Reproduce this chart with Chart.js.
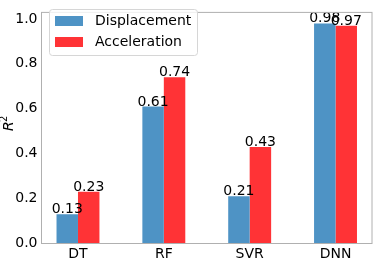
<!DOCTYPE html>
<html>
<head>
<meta charset="utf-8">
<script src="https://cdn.jsdelivr.net/npm/chart.js@4"></script>
<style>
  html, body { margin: 0; padding: 0; background: #fff; }
  canvas { display: block; }
</style>
</head>
<body>
<canvas id="r2Chart" width="374" height="262"></canvas>
<script>
const categories = ["DT", "RF", "SVR", "DNN"];
const displacement = [0.13, 0.61, 0.21, 0.98];
const acceleration = [0.23, 0.74, 0.43, 0.97];
const yTicks = [0.0, 0.2, 0.4, 0.6, 0.8, 1.0];

const FONT = "'DejaVu Sans', sans-serif";

// value labels above each bar
const barLabels = {
  id: "barLabels",
  afterDatasetsDraw(chart) {
    const ctx = chart.ctx;
    ctx.save();
    ctx.font = "14px " + FONT;
    ctx.fillStyle = "#000";
    ctx.textAlign = "center";
    ctx.textBaseline = "alphabetic";
    chart.data.datasets.forEach((ds, di) => {
      chart.getDatasetMeta(di).data.forEach((bar, i) => {
        ctx.fillText(ds.data[i].y.toFixed(2), bar.x, bar.y - 1);
      });
    });
    ctx.restore();
  }
};

// frame, legend and y title
const frame = {
  id: "frame",
  afterDraw(chart) {
    const ctx = chart.ctx;
    const a = chart.chartArea;
    ctx.save();
    ctx.strokeStyle = "#b0b0b0";
    ctx.lineWidth = 1;
    ctx.strokeRect(a.left, a.top, a.right - a.left, a.bottom - a.top);

    // legend
    ctx.beginPath();
    ctx.roundRect(49.5, 9.5, 148, 46, 3);
    ctx.fillStyle = "rgba(255,255,255,0.8)";
    ctx.fill();
    ctx.strokeStyle = "#d6d6d6";
    ctx.stroke();
    ctx.font = "14px " + FONT;
    ctx.textBaseline = "middle";
    ctx.textAlign = "left";
    chart.data.datasets.forEach((ds, i) => {
      const y = 16 + i * 21;
      ctx.fillStyle = ds.backgroundColor;
      ctx.fillRect(55, y, 28, 10);
      ctx.fillStyle = "#000";
      ctx.fillText(ds.label, 95, y + 5.5);
    });

    // y axis title R^2
    ctx.translate(13, 125);
    ctx.rotate(-Math.PI / 2);
    ctx.textBaseline = "alphabetic";
    ctx.font = "italic 14px " + FONT;
    ctx.fillText("R", -6, 0);
    ctx.font = "10px " + FONT;
    ctx.fillText("2", 3, -6);
    ctx.restore();
  }
};

new Chart(document.getElementById("r2Chart").getContext("2d"), {
  type: "bar",
  data: {
    datasets: [
      {
        label: "Displacement",
        data: displacement.map((v, i) => ({ x: i, y: v })),
        backgroundColor: "#4e93c5"
      },
      {
        label: "Acceleration",
        data: acceleration.map((v, i) => ({ x: i, y: v })),
        backgroundColor: "#ff3336"
      }
    ]
  },
  options: {
    responsive: false,
    animation: false,
    layout: { padding: { top: 3, right: 2, left: 0, bottom: 0 } },
    categoryPercentage: 0.5,
    barPercentage: 1.0,
    plugins: { legend: { display: false }, tooltip: { enabled: false } },
    scales: {
      x: {
        type: "linear",
        min: -0.425,
        max: 3.425,
        offset: false,
        grid: { display: false, drawTicks: false },
        border: { display: false },
        afterBuildTicks: (s) => { s.ticks = categories.map((c, i) => ({ value: i })); },
        afterFit: (s) => { s.height = 18.5; },
        ticks: {
          padding: 2,
          maxRotation: 0,
          autoSkip: false,
          color: "#000",
          font: { family: FONT, size: 14 },
          callback: (v) => categories[v]
        }
      },
      y: {
        min: 0,
        max: 1.029,
        grid: { display: false, drawTicks: false },
        border: { display: false },
        afterBuildTicks: (s) => { s.ticks = yTicks.map((v) => ({ value: v })); },
        afterFit: (s) => { s.width = 41.5; },
        ticks: {
          padding: 4,
          color: "#000",
          font: { family: FONT, size: 14 },
          callback: (v) => v.toFixed(1)
        }
      }
    }
  },
  plugins: [barLabels, frame]
});
</script>
</body>
</html>
